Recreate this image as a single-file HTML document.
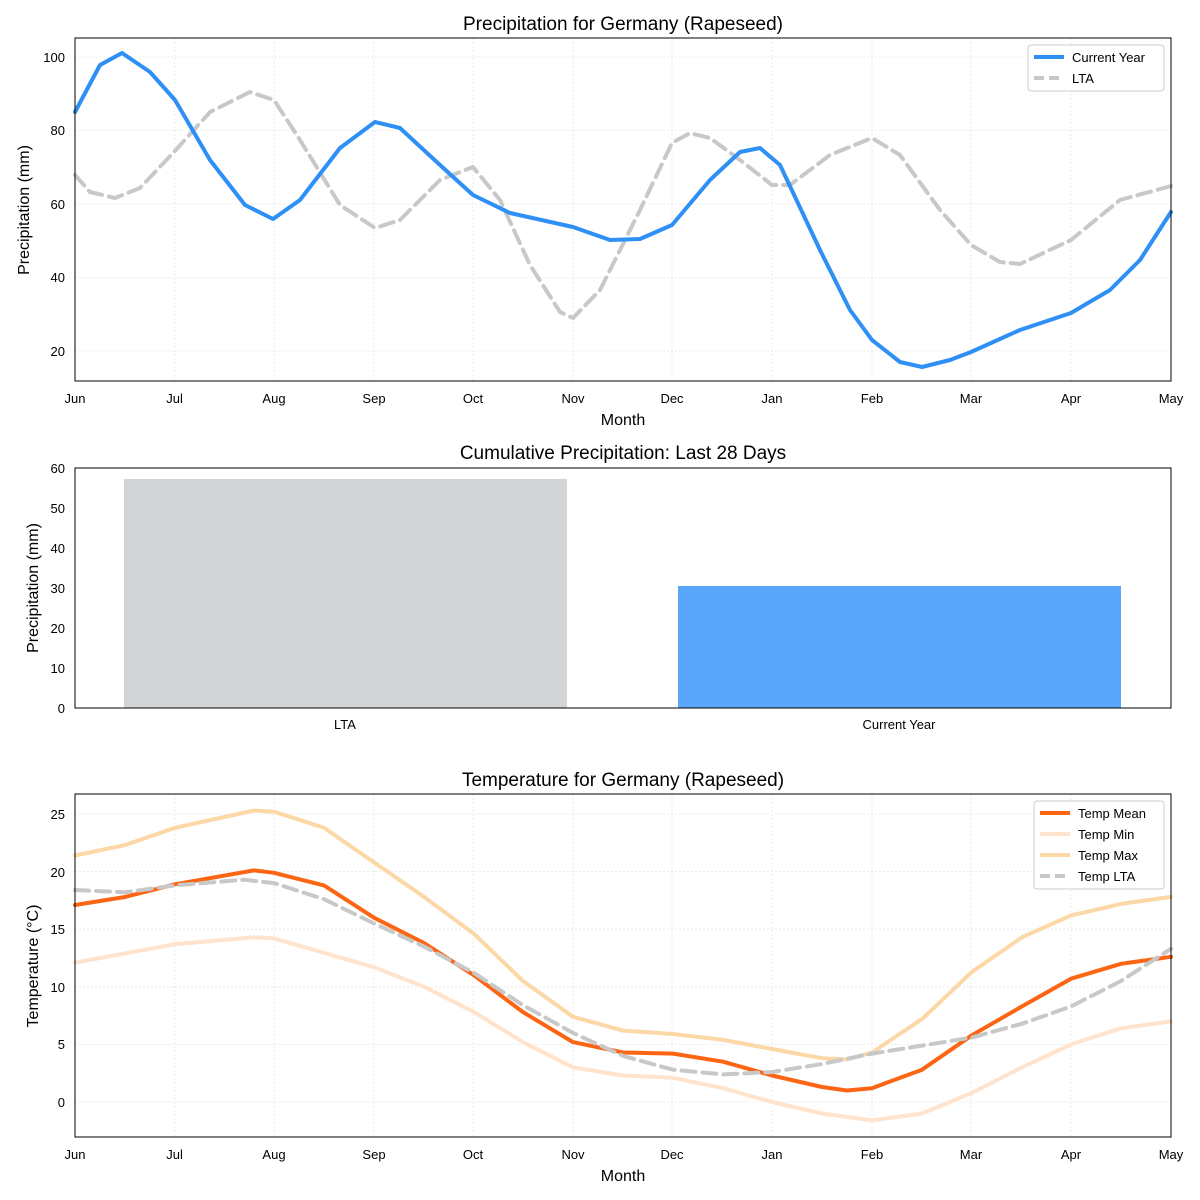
<!DOCTYPE html>
<html><head><meta charset="utf-8"><style>
body{margin:0;background:#fff}
svg{display:block;font-family:"Liberation Sans","DejaVu Sans",sans-serif}
.g{stroke:#e6e6e6;stroke-width:0.8;stroke-dasharray:2,2}
.t{font-size:13px;fill:#000}
.ttl{font-size:19px;fill:#000}
.lab{font-size:16px;fill:#000}
polyline{fill:none;stroke-linejoin:round;stroke-linecap:round}
</style></head><body>
<svg width="1200" height="1200" viewBox="0 0 1200 1200">
<rect width="1200" height="1200" fill="#fff"/>
<!-- Chart 1 -->
<text class="ttl" x="623" y="30" text-anchor="middle">Precipitation for Germany (Rapeseed)</text>
<g>
<line class="g" x1="174.6" y1="38" x2="174.6" y2="381"/><line class="g" x1="274" y1="38" x2="274" y2="381"/><line class="g" x1="374" y1="38" x2="374" y2="381"/><line class="g" x1="473" y1="38" x2="473" y2="381"/><line class="g" x1="573" y1="38" x2="573" y2="381"/><line class="g" x1="672" y1="38" x2="672" y2="381"/><line class="g" x1="772" y1="38" x2="772" y2="381"/><line class="g" x1="872" y1="38" x2="872" y2="381"/><line class="g" x1="971" y1="38" x2="971" y2="381"/><line class="g" x1="1071" y1="38" x2="1071" y2="381"/>
<line class="g" x1="75" y1="57" x2="1171" y2="57"/><line class="g" x1="75" y1="130.5" x2="1171" y2="130.5"/><line class="g" x1="75" y1="204" x2="1171" y2="204"/><line class="g" x1="75" y1="277.5" x2="1171" y2="277.5"/><line class="g" x1="75" y1="351" x2="1171" y2="351"/>
</g>
<polyline stroke="#c8c8c8" stroke-width="4" stroke-dasharray="14,7" points="75,175 90,192 115,198 140,188 174,152 210,112 250,92 274,100 300,140 340,205 375,228 400,220 440,180 473,167 500,200 530,265 560,312 573,318 600,290 640,210 672,143 690,133 710,138 740,160 772,185 790,185 830,155 872,138 900,155 940,210 971,245 1000,262 1020,264 1071,240 1120,200 1171,186"/>
<polyline stroke="#2e8ff5" stroke-width="4" points="75,112 100,65 122,53 150,72 175,100 210,160 245,205 273,219 300,200 340,148 375,122 400,128 440,165 473,195 510,213 573,227 610,240 640,239 672,225 710,180 740,152 760,148 780,165 820,250 850,310 872,340 900,362 922,367 950,360 971,352 1020,330 1071,313 1110,290 1140,260 1171,212"/>
<rect x="75" y="38" width="1096" height="343" fill="none" stroke="#000" stroke-width="1"/>
<g class="t" text-anchor="end">
<text x="65" y="62">100</text><text x="65" y="135">80</text><text x="65" y="209">60</text><text x="65" y="282">40</text><text x="65" y="356">20</text></g>
<g class="t" text-anchor="middle">
<text x="75" y="403">Jun</text><text x="174.6" y="403">Jul</text><text x="274" y="403">Aug</text><text x="374" y="403">Sep</text><text x="473" y="403">Oct</text><text x="573" y="403">Nov</text><text x="672" y="403">Dec</text><text x="772" y="403">Jan</text><text x="872" y="403">Feb</text><text x="971" y="403">Mar</text><text x="1071" y="403">Apr</text><text x="1171" y="403">May</text></g>
<text class="lab" x="623" y="425" text-anchor="middle">Month</text>
<text class="lab" transform="translate(29,210) rotate(-90)" text-anchor="middle">Precipitation (mm)</text>
<rect x="1028" y="45" width="136" height="46" fill="#fff" stroke="#ccc" rx="3"/>
<line x1="1034" y1="57" x2="1064" y2="57" stroke="#2e8ff5" stroke-width="4"/>
<line x1="1034" y1="78" x2="1064" y2="78" stroke="#c8c8c8" stroke-width="4" stroke-dasharray="10,5"/>
<text class="t" x="1072" y="62">Current Year</text><text class="t" x="1072" y="83">LTA</text>
<!-- Chart 2 -->
<text class="ttl" x="623" y="459" text-anchor="middle">Cumulative Precipitation: Last 28 Days</text>
<rect x="124" y="479" width="443" height="229" fill="#d1d5d8"/>
<rect x="678" y="586" width="443" height="122" fill="#59a6fb"/>
<rect x="75" y="468" width="1096" height="240" fill="none" stroke="#000"/>
<g class="t" text-anchor="end">
<text x="65" y="473">60</text><text x="65" y="513">50</text><text x="65" y="553">40</text><text x="65" y="593">30</text><text x="65" y="633">20</text><text x="65" y="673">10</text><text x="65" y="713">0</text></g>
<text class="t" x="345" y="729" text-anchor="middle">LTA</text>
<text class="t" x="899" y="729" text-anchor="middle">Current Year</text>
<text class="lab" transform="translate(38,588) rotate(-90)" text-anchor="middle">Precipitation (mm)</text>
<!-- Chart 3 -->
<text class="ttl" x="623" y="786" text-anchor="middle">Temperature for Germany (Rapeseed)</text>
<g>
<line class="g" x1="174.6" y1="794" x2="174.6" y2="1137"/><line class="g" x1="274" y1="794" x2="274" y2="1137"/><line class="g" x1="374" y1="794" x2="374" y2="1137"/><line class="g" x1="473" y1="794" x2="473" y2="1137"/><line class="g" x1="573" y1="794" x2="573" y2="1137"/><line class="g" x1="672" y1="794" x2="672" y2="1137"/><line class="g" x1="772" y1="794" x2="772" y2="1137"/><line class="g" x1="872" y1="794" x2="872" y2="1137"/><line class="g" x1="971" y1="794" x2="971" y2="1137"/><line class="g" x1="1071" y1="794" x2="1071" y2="1137"/>
<line class="g" x1="75" y1="814" x2="1171" y2="814"/><line class="g" x1="75" y1="871.6" x2="1171" y2="871.6"/><line class="g" x1="75" y1="929.2" x2="1171" y2="929.2"/><line class="g" x1="75" y1="986.8" x2="1171" y2="986.8"/><line class="g" x1="75" y1="1044.4" x2="1171" y2="1044.4"/><line class="g" x1="75" y1="1102" x2="1171" y2="1102"/>
</g>
<polyline stroke="#ffe3cc" stroke-width="4" points="75,962.6 175,944.2 254,937.3 274,938.4 374,967.2 424,986.8 474,1012.1 523,1042.1 573,1067.4 623,1075.5 673,1077.8 723,1088.2 772,1102 822,1113.5 872,1120.4 922,1113.5 972,1092.8 1022,1067.4 1071,1044.4 1121,1028.3 1171,1021.4"/>
<polyline stroke="#fbd8a6" stroke-width="4" points="75,855.5 125,845.1 175,827.8 254,810.5 274,811.7 324,827.8 374,862.4 424,896.9 474,933.8 523,981 573,1016.8 623,1030.6 673,1034 723,1039.8 772,1049 822,1058.2 847,1059.4 872,1052.5 922,1019.1 972,971.8 1022,937.3 1071,915.4 1121,903.9 1171,896.9"/>
<polyline stroke="#fc6514" stroke-width="4" points="75,905 125,897 175,884.3 254,870.4 274,872.8 324,885.4 374,917.7 424,943 474,975.3 523,1012.1 573,1042.1 623,1052.5 673,1053.6 723,1061.7 772,1075.5 822,1087 847,1090.5 872,1088.2 922,1069.7 972,1035.2 1022,1006.4 1071,978.7 1121,963.8 1171,956.8"/>
<polyline stroke="#c8c8c8" stroke-width="4" stroke-dasharray="14,7" points="75,890 125,892.3 175,885.4 244,879.7 274,883.1 324,899.2 374,923.4 424,946.5 474,973 523,1005.2 573,1032.9 623,1055.9 673,1069.7 723,1074.4 772,1072 822,1064 872,1053.6 922,1045.6 972,1037.5 1022,1023.7 1071,1006.4 1121,981 1171,948.8"/>
<rect x="75" y="794" width="1096" height="343" fill="none" stroke="#000"/>
<g class="t" text-anchor="end">
<text x="65" y="819">25</text><text x="65" y="877">20</text><text x="65" y="934">15</text><text x="65" y="992">10</text><text x="65" y="1049">5</text><text x="65" y="1107">0</text></g>
<g class="t" text-anchor="middle">
<text x="75" y="1159">Jun</text><text x="174.6" y="1159">Jul</text><text x="274" y="1159">Aug</text><text x="374" y="1159">Sep</text><text x="473" y="1159">Oct</text><text x="573" y="1159">Nov</text><text x="672" y="1159">Dec</text><text x="772" y="1159">Jan</text><text x="872" y="1159">Feb</text><text x="971" y="1159">Mar</text><text x="1071" y="1159">Apr</text><text x="1171" y="1159">May</text></g>
<text class="lab" x="623" y="1181" text-anchor="middle">Month</text>
<text class="lab" transform="translate(38,966) rotate(-90)" text-anchor="middle">Temperature (°C)</text>
<rect x="1034" y="801" width="130" height="88" fill="#fff" stroke="#ccc" rx="3"/>
<line x1="1040" y1="813" x2="1070" y2="813" stroke="#fc6514" stroke-width="4"/>
<line x1="1040" y1="834" x2="1070" y2="834" stroke="#ffe3cc" stroke-width="4"/>
<line x1="1040" y1="855" x2="1070" y2="855" stroke="#fbd8a6" stroke-width="4"/>
<line x1="1040" y1="876" x2="1070" y2="876" stroke="#c8c8c8" stroke-width="4" stroke-dasharray="10,5"/>
<text class="t" x="1078" y="818">Temp Mean</text><text class="t" x="1078" y="839">Temp Min</text><text class="t" x="1078" y="860">Temp Max</text><text class="t" x="1078" y="881">Temp LTA</text>
</svg>
</body></html>
